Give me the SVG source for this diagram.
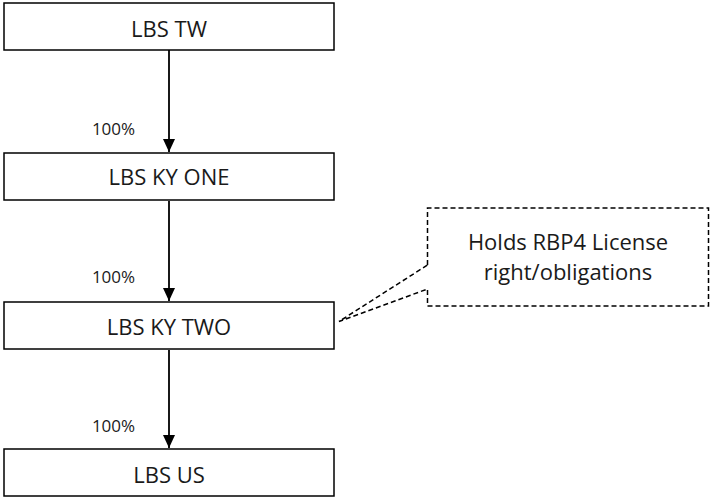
<svg xmlns="http://www.w3.org/2000/svg" width="710" height="499" viewBox="0 0 710 499">
<defs>
<style>
.box{fill:#fff;stroke:#000;stroke-width:1.5}
.lbl{font-family:"Open Sans","Liberation Sans",sans-serif;font-size:22px;fill:#1a1a1a;text-anchor:middle}
.pct{font-family:"Open Sans","Liberation Sans",sans-serif;font-size:17px;fill:#1a1a1a;text-anchor:middle}
.conn{stroke:#000;stroke-width:1.8;fill:none}
.call{fill:#fff;stroke:#000;stroke-width:1.5;stroke-dasharray:5,3}
</style>
<marker id="ah" markerWidth="14" markerHeight="12" refX="13" refY="6" orient="auto" markerUnits="userSpaceOnUse">
<path d="M0,0 L13,6 L0,12 Z" fill="#000"/>
</marker>
</defs>
<rect width="710" height="499" fill="#fff"/>
<g id="connectors">
<line class="conn" x1="169" y1="50" x2="169" y2="152" marker-end="url(#ah)"/>
<line class="conn" x1="169" y1="201" x2="169" y2="301" marker-end="url(#ah)"/>
<line class="conn" x1="169" y1="350" x2="169" y2="448" marker-end="url(#ah)"/>
<text class="pct" x="113.5" y="135">100%</text>
<text class="pct" x="113.5" y="283">100%</text>
<text class="pct" x="113.5" y="432">100%</text>
</g>
<g id="lbs-tw">
<rect class="box" x="4" y="3" width="330" height="47"/>
<text class="lbl" x="169" y="37">LBS TW</text>
</g>
<g id="lbs-ky-one">
<rect class="box" x="4" y="153" width="330" height="47"/>
<text class="lbl" x="169" y="185">LBS KY ONE</text>
</g>
<g id="lbs-ky-two">
<rect class="box" x="4" y="302" width="330" height="47"/>
<text class="lbl" x="169" y="335">LBS KY TWO</text>
</g>
<g id="lbs-us">
<rect class="box" x="4" y="449" width="330" height="47"/>
<text class="lbl" x="169" y="483">LBS US</text>
</g>
<g id="callout">
<path class="call" d="M427.5,265 L427.5,208 L708.5,208 L708.5,306 L427.5,306 L427.5,289 L339,321.5 Z"/>
<text class="lbl" x="568" y="250">Holds RBP4 License</text>
<text class="lbl" x="568" y="280">right/obligations</text>
</g>
</svg>
